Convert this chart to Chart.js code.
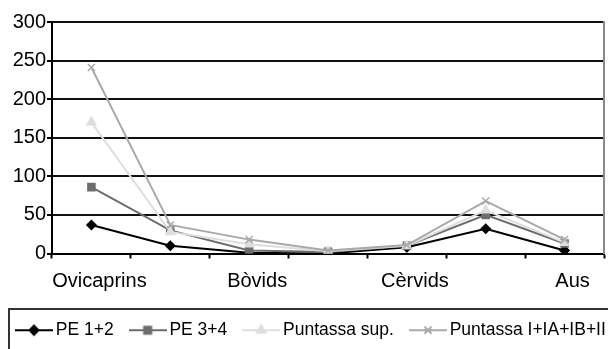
<!DOCTYPE html>
<html>
<head>
<meta charset="utf-8">
<script src="https://cdn.jsdelivr.net/npm/chart.js@4/dist/chart.umd.min.js"></script>
<style>
  html, body { margin: 0; padding: 0; background: #fff; }
  #wrap { width: 608px; height: 349px; overflow: hidden; position: relative; }
  #chart { display: block; }
</style>
</head>
<body>
<div id="wrap"><canvas id="chart" width="640" height="349"></canvas></div>
<script>
const categories = ["Ovicaprins", "Suids", "Bòvids", "Èquids", "Cèrvids", "Lepòrids", "Aus"];
const pe12 = [37, 10, 1, 0, 8, 32, 4];
const pe34 = [86, 30, 4, 2, 10, 50, 13];
const puntassaSup = [170, 28, 12, 3, 10, 56, 14];
const puntassaI = [241, 37, 18, 4, 11, 68, 18];
const yTicks = [0, 50, 100, 150, 200, 250, 300];

const FONT = "'Liberation Sans', Arial, sans-serif";

const series = [
  { label: "PE 1+2", data: pe12, color: "#000000", style: "rectRot", radius: 4.5 },
  { label: "PE 3+4", data: pe34, color: "#6d6d6d", style: "rect", radius: 5 },
  { label: "Puntassa sup.", data: puntassaSup, color: "#dedede", style: "triangle", radius: 5 },
  { label: "Puntassa I+IA+IB+II", data: puntassaI, color: "#a9a9a9", style: "crossRot", radius: 5 },
];

// small line-with-marker images used as legend keys
function legendKey(s) {
  const c = document.createElement("canvas");
  c.width = 38;
  c.height = 14;
  const g = c.getContext("2d");
  g.strokeStyle = s.color;
  g.fillStyle = s.color;
  g.lineWidth = 2;
  g.beginPath();
  g.moveTo(0, 7);
  g.lineTo(38, 7);
  g.stroke();
  Chart.helpers.drawPoint(g, { pointStyle: s.style, radius: s.radius, borderWidth: 1.5, rotation: 0 }, 19, 7);
  return c;
}
const keys = series.map(legendKey);

const legendFrame = {
  id: "legendFrame",
  afterDraw(chart) {
    const ctx = chart.ctx;
    const top = chart.legend.top + 8.5;
    ctx.save();
    ctx.strokeStyle = "#333";
    ctx.lineWidth = 2;
    ctx.strokeRect(9, top, 700, 100);
    ctx.restore();
  },
};

new Chart(document.getElementById("chart"), {
  type: "line",
  data: {
    labels: categories,
    datasets: series.map((s, i) => ({
      label: s.label,
      data: s.data,
      borderColor: s.color,
      backgroundColor: s.color,
      borderWidth: 2,
      pointStyle: s.style,
      pointRadius: s.radius,
      pointBorderWidth: 1.5,
      pointBackgroundColor: s.color,
      pointBorderColor: s.color,
      tension: 0,
      fill: false,
      order: series.length - i,
      yAxisID: "y",
    })),
  },
  options: {
    responsive: false,
    animation: false,
    devicePixelRatio: 1,
    layout: { padding: { top: 22, left: 0, right: 0, bottom: 0 } },
    plugins: {
      tooltip: { enabled: false },
      legend: {
        position: "bottom",
        align: "start",
        labels: {
          usePointStyle: true,
          pointStyleWidth: 26,
          padding: 21,
          color: "#000",
          font: { family: FONT, size: 17.5 },
          generateLabels: (chart) =>
            chart.data.datasets.map((ds, i) => ({
              text: ds.label,
              pointStyle: keys[i],
              datasetIndex: i,
              lineWidth: 0,
              hidden: false,
              fillStyle: ds.borderColor,
              strokeStyle: ds.borderColor,
              fontColor: "#000",
            })),
        },
      },
    },
    scales: {
      x: {
        offset: true,
        grid: {
          offset: true,
          drawOnChartArea: false,
          tickLength: 5,
          tickColor: "#000",
          tickWidth: 2,
        },
        border: { color: "#000", width: 2 },
        ticks: {
          autoSkip: false,
          maxRotation: 0,
          padding: 11,
          labelOffset: 8,
          color: "#000",
          font: { family: FONT, size: 20 },
          callback: function (value, index) {
            return index % 2 === 0 ? this.getLabelForValue(value) : "";
          },
        },
        afterFit: (scale) => { scale.height = 47; },
      },
      y: {
        min: 0,
        max: 300,
        afterBuildTicks: (scale) => { scale.ticks = yTicks.map((v) => ({ value: v })); },
        grid: { color: "#111", lineWidth: 2, tickLength: 5, tickColor: "#000" },
        border: { color: "#000", width: 2 },
        ticks: {
          padding: 1,
          color: "#000",
          font: { family: FONT, size: 20 },
        },
        afterFit: (scale) => { scale.width = 52; },
      },
      frame: {
        type: "linear",
        position: "right",
        min: 0,
        max: 300,
        grid: { drawOnChartArea: false, drawTicks: false },
        border: { color: "#8a8a8a", width: 2 },
        ticks: { display: false },
        afterFit: (scale) => { scale.width = 36; },
      },
    },
  },
  plugins: [legendFrame],
});
</script>
</body>
</html>
